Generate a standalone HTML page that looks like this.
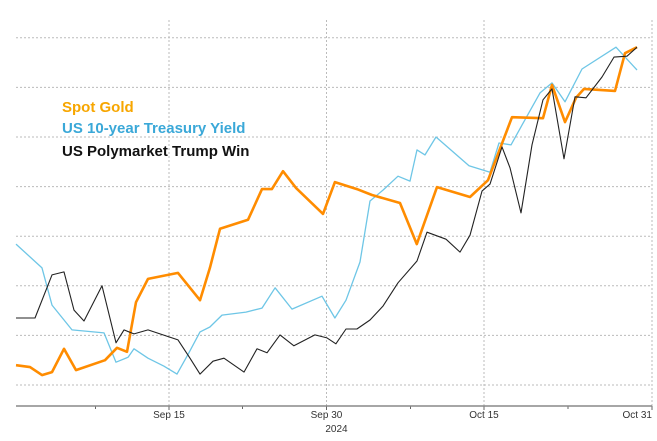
<!DOCTYPE html>
<html><head><meta charset="utf-8"><style>
body{margin:0;background:#fff;font-family:"Liberation Sans",sans-serif}
svg{display:block}
</style></head><body>
<svg id="c" width="657" height="441"></svg>
<script>
const xTickLabels=["Sep 15","Sep 30","Oct 15","Oct 31"];
const xTickDays=[15,30,45,61];
const minorTickDays=[8,22,38,53];
const gridValues=[0,1,2,3,4,5,6,7];
const goldDays=[0.43,1.76,2.9,3.86,5.0,6.14,8.9,10.05,11.0,11.86,13.0,15.86,17.95,18.9,19.86,22.52,23.86,24.8,25.86,27.1,29.67,30.8,32.9,34.33,37.0,38.6,40.52,43.67,45.38,47.67,50.62,51.48,52.71,53.76,54.52,57.48,58.43,59.57];
const goldVals=[0.40,0.36,0.20,0.26,0.73,0.30,0.50,0.75,0.67,1.67,2.14,2.26,1.71,2.36,3.15,3.33,3.95,3.95,4.31,3.97,3.45,4.09,3.95,3.83,3.67,2.84,3.99,3.79,4.13,5.40,5.38,6.05,5.30,5.79,5.97,5.93,6.69,6.81];
const yieldDays=[0.43,2.9,3.86,5.76,8.81,9.95,11.1,11.67,13.0,14.52,15.76,16.9,17.95,18.9,20.05,22.33,23.86,25.1,26.71,29.57,30.8,31.86,33.19,34.14,35.38,36.81,37.95,38.62,39.38,40.43,43.57,45.57,46.43,47.57,48.62,50.33,51.48,52.71,54.33,57.57,59.57];
const yieldVals=[2.84,2.36,1.61,1.11,1.05,0.46,0.56,0.73,0.54,0.38,0.22,0.65,1.07,1.17,1.41,1.47,1.55,1.96,1.53,1.79,1.35,1.71,2.48,3.71,3.93,4.21,4.11,4.74,4.64,5.0,4.42,4.29,4.88,4.84,5.24,5.89,6.09,5.71,6.37,6.81,6.35];
const trumpDays=[0.43,2.24,3.86,5.0,5.95,6.9,8.62,9.95,10.71,11.67,13.0,15.86,17.0,17.95,19.19,20.24,22.14,23.38,24.33,25.57,26.9,28.9,30.05,30.9,31.86,32.9,34.14,35.38,36.81,38.62,39.57,41.38,42.71,43.67,44.81,45.57,46.71,47.48,48.52,49.57,50.62,51.48,52.62,53.67,54.71,56.24,57.38,58.62,59.57];
const trumpVals=[1.35,1.35,2.22,2.28,1.51,1.29,2.0,0.85,1.11,1.03,1.11,0.91,0.54,0.22,0.48,0.54,0.26,0.73,0.65,1.01,0.79,1.01,0.95,0.83,1.13,1.13,1.31,1.59,2.06,2.50,3.08,2.94,2.68,3.02,3.91,4.05,4.80,4.38,3.47,4.84,5.75,5.97,4.56,5.81,5.79,6.21,6.61,6.63,6.81];

const svg=document.getElementById('c');const NS='http://www.w3.org/2000/svg';
const xS=d=>22+(d-1)*10.5;
const yS=v=>385-v*49.6;
function mk(t,a){const e=document.createElementNS(NS,t);for(const k in a)e.setAttribute(k,a[k]);svg.appendChild(e);return e;}
gridValues.forEach(v=>{const l=mk('line',{x1:16,x2:652,y1:yS(v),y2:yS(v),stroke:'#bbb','stroke-dasharray':'2,2','stroke-width':1});

});
xTickDays.forEach((d,i)=>{const l=mk('line',{x1:xS(d),x2:xS(d),y1:20,y2:406,stroke:'#bbb','stroke-dasharray':'2,2'});


const last=i===xTickDays.length-1;
const t=mk('text',{x:last?Math.min(xS(d),653):xS(d),y:418,'font-size':10,'text-anchor':last?'end':'middle',fill:'#333'});t.textContent=xTickLabels[i];


const k=mk('line',{x1:xS(d),x2:xS(d),y1:406,y2:410,stroke:'#666'});

});
minorTickDays.forEach(d=>{const k=mk('line',{x1:xS(d),x2:xS(d),y1:406,y2:409,stroke:'#666'});

});
const ax=mk('line',{x1:16,x2:652,y1:406,y2:406,stroke:'#888','stroke-width':1.5});


const yr=mk('text',{x:xS(30)+10,y:432,'font-size':10,'text-anchor':'middle',fill:'#333'});yr.textContent='2024';


function series(ds,vs,col,w,name){const p=ds.map((d,i)=>xS(d).toFixed(1)+','+yS(vs[i]).toFixed(1)).join(' ');
const e=mk('polyline',{points:p,fill:'none',stroke:col,'stroke-width':w,'stroke-linejoin':'round'});

}
series(yieldDays,yieldVals,'#6ec6e6',1.3,'treasury-yield-line');
series(goldDays,goldVals,'#ff8c00',2.6,'spot-gold-line');
series(trumpDays,trumpVals,'#222',1.1,'trump-win-line');
const leg=[['Spot Gold','#f7a600',112],['US 10-year Treasury Yield','#3aa8d8',133],['US Polymarket Trump Win','#111',156]];
leg.forEach(l=>{const t=mk('text',{x:62,y:l[2],'font-size':15,'font-weight':'bold',fill:l[1]});t.textContent=l[0];

});
</script>
</body></html>
